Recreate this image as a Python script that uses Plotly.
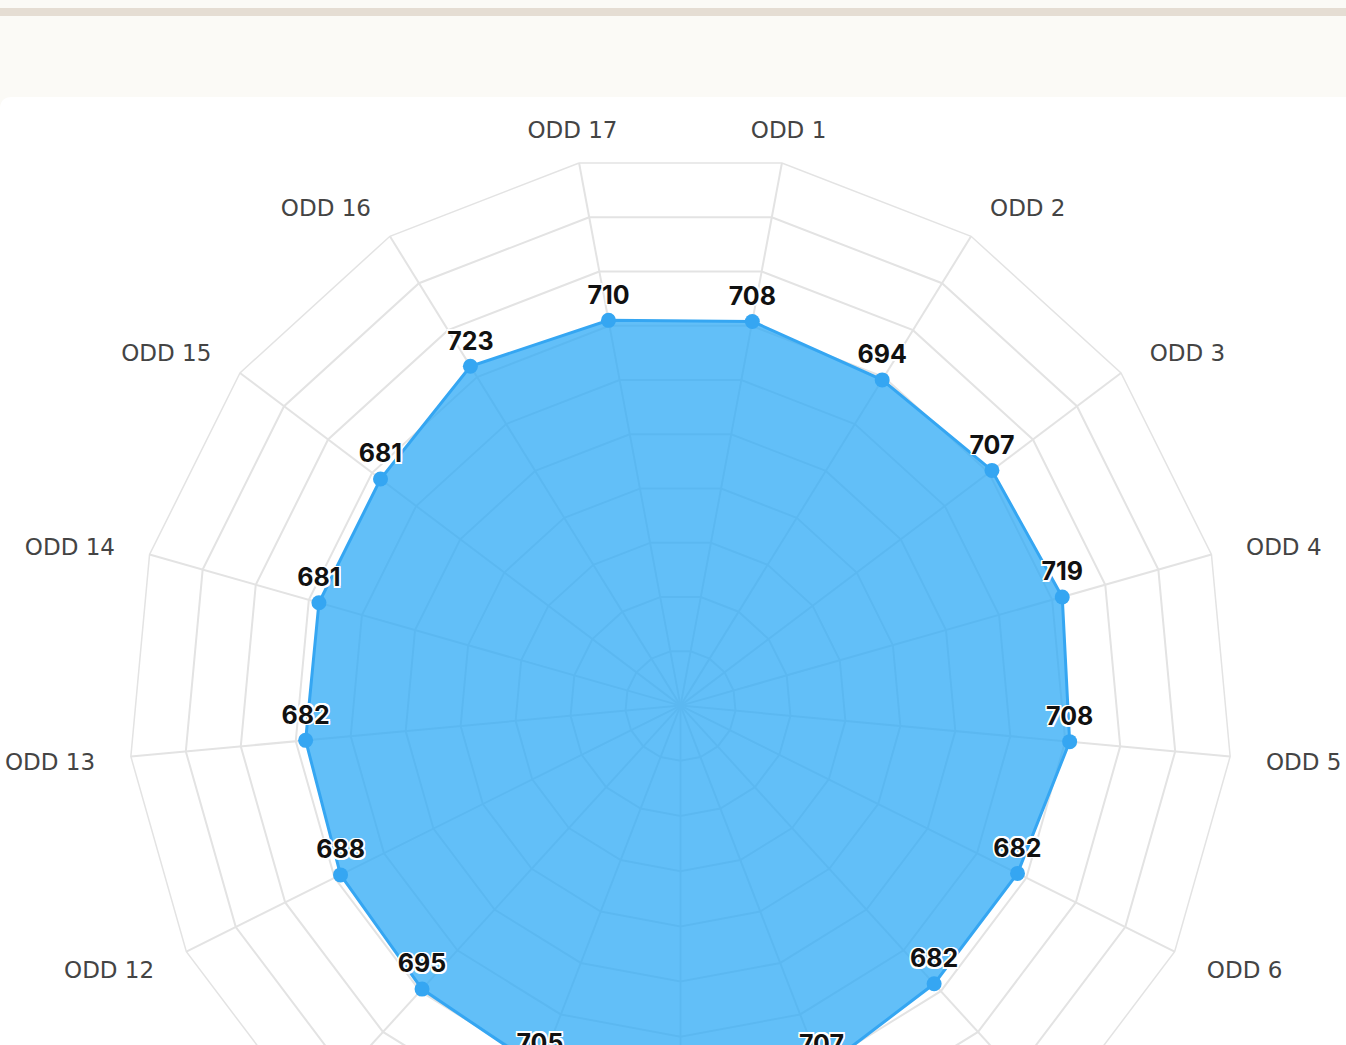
import plotly.graph_objects as go

# ---- data ----
categories = [f"ODD {i}" for i in range(1, 18)]
values = [708, 694, 707, 719, 708, 682, 682, 707, 700, 705, 695, 688, 682, 681, 681, 723, 710]
value_labels = [str(v) for v in values]

# ---- page geometry ----
W, H = 1346, 1400
cx, cy, R = 680.5, 705.6, 552.0
R_LABEL = 588.0
LABEL_DY = 4.5
RMAX = 1000


def fx(px):
    return px / W


def fy(py):
    return 1 - py / H


def label_pos(i, n):
    if i == 0 or i == n - 1:
        return "middle center"
    if i == n // 2:
        return "bottom center"
    return "middle right" if i < n // 2 else "middle left"


closed_theta = categories + [categories[0]]
closed_r = values + [values[0]]

fig = go.Figure()
fig.add_trace(go.Scatterpolar(
    r=closed_r,
    theta=closed_theta,
    mode="lines",
    fill="toself",
    fillcolor="rgba(45,170,245,0.75)",
    line=dict(color="#35a6f2", width=3),
    hoverinfo="skip",
    showlegend=False,
))
fig.add_trace(go.Scatterpolar(
    r=values,
    theta=categories,
    mode="markers+text",
    marker=dict(color="#35a6f2", size=15),
    text=value_labels,
    textposition="top center",
    textfont=dict(family="Inter, Liberation Sans, sans-serif", size=25, color="#111111",
                  weight=700,
                  shadow="1.5px 1.5px 0 #fff, -1.5px -1.5px 0 #fff, 1.5px -1.5px 0 #fff, -1.5px 1.5px 0 #fff, 0 1.5px 0 #fff, 0 -1.5px 0 #fff, 1.5px 0 0 #fff, -1.5px 0 0 #fff"),
    showlegend=False,
))
# category labels around the outside (on an overlay polar with a larger radius)
fig.add_trace(go.Scatterpolar(
    r=[1.0] * len(categories),
    theta=categories,
    subplot="polar2",
    mode="text",
    text=categories,
    textposition=[label_pos(i, len(categories)) for i in range(len(categories))],
    textfont=dict(family="DejaVu Sans, sans-serif", size=23, color="#444444"),
    cliponaxis=False,
    hoverinfo="skip",
    showlegend=False,
))

grid = "#e3e3e3"
rotation = 90 - 360 / 17 / 2
cy2 = cy + LABEL_DY
fig.update_layout(
    width=W, height=H,
    margin=dict(l=0, r=0, t=0, b=0),
    paper_bgcolor="#fbfaf6",
    showlegend=False,
    polar=dict(
        domain=dict(x=[fx(cx - R), fx(cx + R)], y=[fy(cy + R), fy(cy - R)]),
        bgcolor="rgba(0,0,0,0)",
        gridshape="linear",
        radialaxis=dict(range=[0, RMAX], dtick=100, showticklabels=False, ticks="",
                        showline=False, gridcolor=grid, gridwidth=1.5),
        angularaxis=dict(type="category", categoryarray=categories,
                         rotation=rotation, direction="clockwise",
                         gridcolor=grid, gridwidth=1.5, linecolor=grid, linewidth=1.5,
                         ticks="", showticklabels=False),
    ),
    polar2=dict(
        domain=dict(x=[fx(cx - R_LABEL), fx(cx + R_LABEL)], y=[fy(cy2 + R_LABEL), fy(cy2 - R_LABEL)]),
        bgcolor="rgba(0,0,0,0)",
        gridshape="linear",
        radialaxis=dict(range=[0, 1], showgrid=False, showticklabels=False, ticks="", showline=False),
        angularaxis=dict(type="category", categoryarray=categories,
                         rotation=rotation, direction="clockwise",
                         showgrid=False, showline=False, ticks="", showticklabels=False),
    ),
    shapes=[
        dict(type="rect", xref="paper", yref="paper", x0=0, x1=1, y0=fy(16), y1=fy(8),
             fillcolor="#e5ddd3", line=dict(width=0), layer="below"),
        dict(type="path", xref="paper", yref="paper", layer="below",
             path=(f"M {fx(0)},{fy(109)} Q {fx(0)},{fy(97)} {fx(12)},{fy(97)} "
                   f"L {fx(1346)},{fy(97)} L {fx(1346)},{fy(H)} L {fx(0)},{fy(H)} Z"),
             fillcolor="#ffffff", line=dict(width=0)),
    ],
)

fig.write_html(
    "out.html",
    config={"displayModeBar": False},
    post_script="document.body.style.margin='0';document.body.style.overflow='hidden';document.documentElement.style.overflow='hidden';",
)
